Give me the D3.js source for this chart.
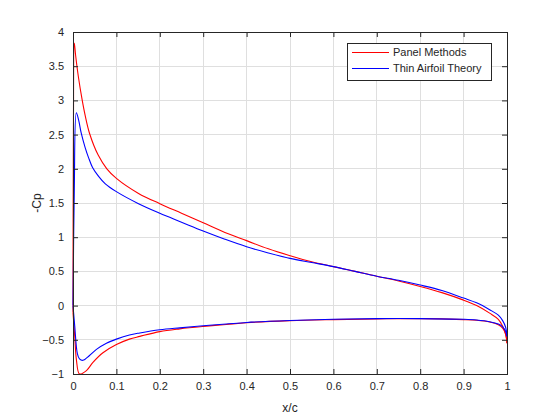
<!DOCTYPE html>
<html>
<head>
<meta charset="utf-8">
<script src="https://cdn.jsdelivr.net/npm/d3@7"></script>
<style>
  body { margin: 0; background: #fff; }
  text { font-family: Arial, "Liberation Sans", Helvetica, sans-serif; fill: #262626; }
</style>
</head>
<body>
<svg id="chart" width="560" height="420"></svg>
<script>
// tick values
const xTicks = [0, 0.1, 0.2, 0.3, 0.4, 0.5, 0.6, 0.7, 0.8, 0.9, 1];
const yTicks = [-1, -0.5, 0, 0.5, 1, 1.5, 2, 2.5, 3, 3.5, 4];

// panel methods, upper surface (x/c, -Cp)
const panelUpperX = [0, 0.001, 0.003, 0.006, 0.0123, 0.021, 0.028, 0.038, 0.058, 0.078, 0.1, 0.151, 0.2, 0.25, 0.3, 0.35, 0.4, 0.45, 0.5, 0.55, 0.6, 0.65, 0.7, 0.75, 0.8, 0.85, 0.9, 0.93, 0.96, 0.98, 0.99, 0.997, 1];
const panelUpper  = [-0.1, 2.6, 3.84, 3.66, 3.35, 3.01, 2.78, 2.52, 2.2, 2.0, 1.86, 1.64, 1.49, 1.35, 1.21, 1.07, 0.95, 0.83, 0.73, 0.64, 0.57, 0.5, 0.43, 0.36, 0.28, 0.19, 0.08, 0.0, -0.11, -0.2, -0.3, -0.42, -0.55];
// panel methods, lower surface
const panelLowerX = [0, 0.004, 0.008, 0.015, 0.031, 0.046, 0.069, 0.1, 0.13, 0.154, 0.2, 0.246, 0.3, 0.353, 0.4, 0.5, 0.6, 0.7, 0.8, 0.9, 0.93, 0.96, 0.98, 0.99, 0.997, 1];
const panelLower  = [-0.1, -0.45, -0.8, -1.0, -0.95, -0.83, -0.69, -0.57, -0.49, -0.45, -0.38, -0.34, -0.305, -0.276, -0.25, -0.22, -0.205, -0.195, -0.19, -0.205, -0.215, -0.24, -0.28, -0.33, -0.42, -0.55];

// thin airfoil theory, upper surface
const thinUpperX = [0, 0.003, 0.0077, 0.013, 0.019, 0.028, 0.036, 0.045, 0.059, 0.0745, 0.099, 0.151, 0.2, 0.25, 0.3, 0.35, 0.4, 0.45, 0.5, 0.55, 0.6, 0.65, 0.7, 0.75, 0.8, 0.85, 0.9, 0.93, 0.96, 0.98, 0.99, 0.997, 1];
const thinUpper  = [0.0, 1.7, 2.82, 2.71, 2.52, 2.31, 2.16, 2.02, 1.89, 1.78, 1.67, 1.49, 1.35, 1.22, 1.09, 0.97, 0.86, 0.77, 0.69, 0.63, 0.57, 0.5, 0.43, 0.37, 0.3, 0.22, 0.11, 0.04, -0.06, -0.14, -0.22, -0.32, -0.45];
// thin airfoil theory, lower surface
const thinLowerX = [0, 0.004, 0.01, 0.015, 0.023, 0.038, 0.054, 0.077, 0.1, 0.13, 0.154, 0.2, 0.246, 0.3, 0.353, 0.4, 0.5, 0.6, 0.7, 0.8, 0.9, 0.93, 0.96, 0.98, 0.99, 0.997, 1];
const thinLower  = [0.0, -0.3, -0.7, -0.78, -0.8, -0.73, -0.64, -0.55, -0.49, -0.43, -0.4, -0.354, -0.325, -0.295, -0.27, -0.246, -0.218, -0.2, -0.19, -0.19, -0.2, -0.21, -0.235, -0.27, -0.31, -0.38, -0.45];

const seriesNames = ["Panel Methods", "Thin Airfoil Theory"];
const seriesColors = ["#ff0000", "#0000ff"];

const svg = d3.select("#chart");
const plotLeft = 73, plotRight = 507, plotTop = 32, plotBottom = 374;

const x = d3.scaleLinear().domain([0, 1]).range([plotLeft, plotRight]);
const y = d3.scaleLinear().domain([-1, 4]).range([plotBottom, plotTop]);

// grid
svg.append("g").selectAll("line").data(xTicks).join("line")
  .attr("x1", d => x(d)).attr("x2", d => x(d))
  .attr("y1", plotTop).attr("y2", plotBottom)
  .attr("stroke", "#dfdfdf").attr("stroke-width", 1).attr("shape-rendering", "crispEdges");
svg.append("g").selectAll("line").data(yTicks).join("line")
  .attr("x1", plotLeft).attr("x2", plotRight)
  .attr("y1", d => y(d)).attr("y2", d => y(d))
  .attr("stroke", "#dfdfdf").attr("stroke-width", 1).attr("shape-rendering", "crispEdges");

// curves
const line = d3.line().x(d => x(d[0])).y(d => y(d[1])).curve(d3.curveCatmullRom.alpha(0.5));
const zip = (xs, ys) => xs.map((v, i) => [v, ys[i]]);
const curves = [
  [zip(panelLowerX, panelLower), 0],
  [zip(panelUpperX, panelUpper), 0],
  [zip(thinLowerX, thinLower), 1],
  [zip(thinUpperX, thinUpper), 1]
];
svg.append("g").selectAll("path").data(curves).join("path")
  .attr("d", d => line(d[0]))
  .attr("fill", "none")
  .attr("stroke", d => seriesColors[d[1]])
  .attr("stroke-width", 1.1);

// axes (box with inward ticks)
const tick = 5;
const axisColor = "#262626";
svg.append("g").attr("transform", `translate(0,${plotBottom})`)
  .call(d3.axisBottom(x).tickValues(xTicks).tickSize(-tick).tickPadding(8).tickFormat(d3.format("~g")))
  .call(g => g.select(".domain").remove());
svg.append("g").attr("transform", `translate(0,${plotTop})`)
  .call(d3.axisTop(x).tickValues(xTicks).tickSize(-tick).tickFormat(""))
  .call(g => g.select(".domain").remove());
svg.append("g").attr("transform", `translate(${plotLeft},0)`)
  .call(d3.axisLeft(y).tickValues(yTicks).tickSize(-tick).tickPadding(9).tickFormat(d3.format("~g")))
  .call(g => g.select(".domain").remove());
svg.append("g").attr("transform", `translate(${plotRight},0)`)
  .call(d3.axisRight(y).tickValues(yTicks).tickSize(-tick).tickFormat(""))
  .call(g => g.select(".domain").remove());
svg.selectAll(".tick line").attr("stroke", axisColor);
svg.selectAll(".tick text").attr("font-size", 11).attr("fill", axisColor)
  .attr("font-family", "Arial, 'Liberation Sans', sans-serif");

svg.append("rect")
  .attr("x", plotLeft).attr("y", plotTop)
  .attr("width", plotRight - plotLeft).attr("height", plotBottom - plotTop)
  .attr("fill", "none").attr("stroke", axisColor).attr("stroke-width", 1)
  .attr("shape-rendering", "crispEdges");

// axis labels
svg.append("text").attr("x", (plotLeft + plotRight) / 2).attr("y", 412)
  .attr("text-anchor", "middle").attr("font-size", 12).text("x/c");
svg.append("text").attr("transform", `translate(41,${(plotTop + plotBottom) / 2}) rotate(-90)`)
  .attr("text-anchor", "middle").attr("font-size", 12).text("-Cp");

// legend
const legend = svg.append("g");
legend.append("rect")
  .attr("x", 347).attr("y", 43).attr("width", 144).attr("height", 37)
  .attr("fill", "#fff").attr("stroke", axisColor).attr("stroke-width", 1)
  .attr("shape-rendering", "crispEdges");
const rows = legend.selectAll("g").data(seriesNames).join("g")
  .attr("transform", (d, i) => `translate(0,${52.5 + i * 16})`);
rows.append("line")
  .attr("x1", 352).attr("x2", 389).attr("y1", 0).attr("y2", 0)
  .attr("stroke", (d, i) => seriesColors[i]).attr("stroke-width", 1.1);
rows.append("text")
  .attr("x", 393).attr("y", 0).attr("dy", "0.35em")
  .attr("font-size", 11).attr("fill", "#000").text(d => d);
</script>
</body>
</html>
